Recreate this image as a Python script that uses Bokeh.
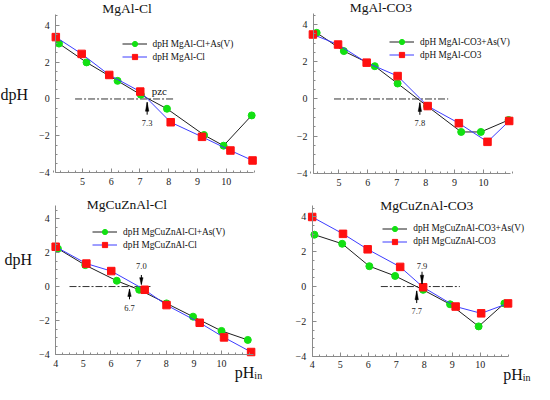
import numpy as np
from bokeh.plotting import figure
from bokeh.models import Range1d, FixedTicker, Label, Legend, LegendItem, LinearAxis
from bokeh.layouts import row, column
from bokeh.embed import file_html
from bokeh.resources import INLINE

FONT = "Liberation Serif"
GREEN = "#12e012"
RED = "#ff1010"
BLUE = "#3c3cff"
BLACK = "#1e1e1e"
AXIS = "#8a8a8a"

# ---------------- data ----------------
titles = ["MgAl-Cl", "MgAl-CO3", "MgCuZnAl-Cl", "MgCuZnAl-CO3"]

ph_mgal_cl_as = [4.18, 5.14, 6.22, 7.03, 7.94, 9.23, 9.91, 10.89]
dph_mgal_cl_as = [3.00, 1.98, 0.98, 0.23, -0.53, -1.95, -2.53, -0.89]
ph_mgal_cl = [4.07, 4.97, 5.93, 7.01, 8.07, 9.16, 10.15, 10.92]
dph_mgal_cl = [3.35, 2.44, 1.30, 0.40, -1.26, -2.05, -2.79, -3.33]

ph_mgal_co3_as = [4.23, 5.17, 6.24, 7.03, 8.05, 9.23, 9.91, 10.87]
dph_mgal_co3_as = [3.55, 2.57, 1.76, 0.83, -0.38, -1.77, -1.77, -1.13]
ph_mgal_co3 = [4.10, 4.97, 5.96, 7.03, 8.07, 9.15, 10.14, 10.89]
dph_mgal_co3 = [3.46, 2.92, 1.95, 1.23, -0.38, -1.30, -2.30, -1.18]

ph_mgcuznal_cl_as = [4.08, 5.07, 6.21, 7.02, 8.01, 8.97, 10.00, 10.95]
dph_mgcuznal_cl_as = [2.23, 1.26, 0.34, -0.19, -0.99, -1.77, -2.61, -3.14]
ph_mgcuznal_cl = [4.00, 5.11, 6.01, 7.22, 8.01, 9.21, 10.09, 11.07]
dph_mgcuznal_cl = [2.34, 1.35, 0.91, -0.19, -1.09, -2.13, -2.99, -3.85]

ph_mgcuznal_co3_as = [4.08, 5.07, 6.04, 6.96, 7.96, 8.92, 9.94, 10.86]
dph_mgcuznal_co3_as = [2.98, 2.46, 1.17, 0.61, -0.19, -1.02, -2.29, -0.97]
ph_mgcuznal_co3 = [4.00, 5.10, 5.98, 7.14, 7.96, 9.12, 10.03, 10.99]
dph_mgcuznal_co3 = [4.00, 3.03, 2.14, 1.13, -0.04, -1.15, -1.54, -0.97]

legend_as = ["dpH MgAl-Cl+As(V)", "dpH MgAl-CO3+As(V)",
             "dpH MgCuZnAl-Cl+As(V)", "dpH MgCuZnAl-CO3+As(V)"]
legend_plain = ["dpH MgAl-Cl", "dpH MgAl-CO3",
                "dpH MgCuZnAl-Cl", "dpH MgCuZnAl-CO3"]

# zero (pzc) dash-dot line extents
zero_start = [4.74, 4.83, 4.50, 6.45]
zero_end = [8.19, 8.78, 7.43, 9.27]

# pzc arrows: x, tip, tail, label text, label y
arrow_x = [[7.25], [7.80], [6.67, 7.10], [7.92, 7.73]]
arrow_tip = [[-0.18], [-0.20], [-0.15, 0.12], [0.15, -0.25]]
arrow_tail = [[-0.85], [-0.85], [-0.75, 0.68], [0.85, -0.95]]
arrow_text = [["7.3"], ["7.8"], ["6.7", "7.0"], ["7.9", "7.7"]]
arrow_text_y = [[-1.30], [-1.30], [-1.25, 1.20], [1.20, -1.38]]

x_major_top = [5, 6, 7, 8, 9, 10]
x_major_bottom = [4, 5, 6, 7, 8, 9, 10]
y_major = [-4, -2, 0, 2, 4]

# axis extents
x_bounds = [(4.065, 10.97), (4.12, 10.93), (4.0, 11.15), (4.0, 11.02)]
y_top = [4.6, 4.6, 4.76, 4.65]

series = [
    (ph_mgal_cl_as, dph_mgal_cl_as, ph_mgal_cl, dph_mgal_cl),
    (ph_mgal_co3_as, dph_mgal_co3_as, ph_mgal_co3, dph_mgal_co3),
    (ph_mgcuznal_cl_as, dph_mgcuznal_cl_as, ph_mgcuznal_cl, dph_mgcuznal_cl),
    (ph_mgcuznal_co3_as, dph_mgcuznal_co3_as, ph_mgcuznal_co3, dph_mgcuznal_co3),
]

# ---------------- layout (reference pixel geometry) ----------------
SX, SY = 0.98, 0.972
fig_ref = [(3.0, 275.4, 4.0, 197.4), (275.4, 547.9, 4.0, 197.4),
           (3.0, 275.4, 197.4, 399.1), (275.4, 547.9, 197.4, 399.1)]
fig_px = [(267, 188), (267, 188), (267, 196), (267, 196)]
cal = [dict(xpx=59.3, xval=4.065, xppu=29.3, y0=105.3, yppu=19.0),
       dict(xpx=348.3, xval=5.0, xppu=29.5, y0=105.3, yppu=19.17),
       dict(xpx=59.3, xval=4.0, xppu=28.2, y0=298.3, yppu=17.5),
       dict(xpx=321.0, xval=4.0, xppu=28.6, y0=298.3, yppu=17.9)]
title_ref = [(132, 12), (391, 11), (132, 214), (438, 215)]
legend_ref = [(127, 42.5), (400, 40.5), (97, 235.5), (393, 232)]
dph_ref = [(3, 101), None, (7, 270), None]
phin_ref = [None, None, (242, 387), (516, 389)]
pzc_ref = (165, 96.7)

x_minor = list(np.arange(4.0, 11.01, 0.25))
y_minor = list(np.arange(-4.0, 4.51, 0.5))


def style_axis(ax, ticks, minor, standoff):
    ax.ticker = FixedTicker(ticks=ticks, minor_ticks=minor)
    ax.axis_line_color = AXIS
    ax.major_tick_line_color = AXIS
    ax.minor_tick_line_color = AXIS
    ax.major_tick_in = 4
    ax.major_tick_out = 0
    ax.minor_tick_in = 2
    ax.minor_tick_out = 0
    ax.major_label_text_font = FONT
    ax.major_label_text_font_size = "10px"
    ax.major_label_text_color = "#222222"
    ax.major_label_standoff = standoff


def txt(p, x, y, s, size, align="center", baseline="middle", color="#111111"):
    p.add_layout(Label(x=x, y=y, text=s, text_font=FONT, text_font_size=size,
                       text_color=color, text_align=align, text_baseline=baseline))


figs = []
for i in range(4):
    c = cal[i]
    dx = lambda rx, c=c: c["xval"] + (rx - c["xpx"]) / c["xppu"]
    dy = lambda ry, c=c: (c["y0"] - ry) / c["yppu"]
    l, r, t, b = fig_ref[i]
    W, H = fig_px[i]
    p = figure(width=W, height=H,
               x_range=Range1d(dx(l), dx(r)), y_range=Range1d(dy(b), dy(t)),
               output_backend="svg", toolbar_location=None,
               x_axis_location=None, y_axis_location=None,
               min_border=0, min_border_left=0, min_border_right=0,
               min_border_top=0, min_border_bottom=0)
    p.grid.visible = False
    p.outline_line_color = None
    p.background_fill_color = "white"
    p.border_fill_color = "white"

    xb = x_bounds[i]
    yax = LinearAxis(fixed_location=xb[0], bounds=(-4, y_top[i]))
    style_axis(yax, y_major, y_minor, 6)
    p.add_layout(yax, "left")
    xax = LinearAxis(fixed_location=-4, bounds=xb)
    style_axis(xax, x_major_top if i < 2 else x_major_bottom, x_minor, 5)
    p.add_layout(xax, "below")

    xa, ya, xb2, yb2 = series[i]

    p.segment(x0=[zero_start[i]], y0=[0], x1=[zero_end[i]], y1=[0],
              line_color="#333333", line_width=1, line_dash="7 2 2 2")

    r1 = p.line(xa, ya, line_color=BLACK, line_width=1)
    r2 = p.scatter(xa, ya, marker="circle", size=7, fill_color=GREEN, line_color=GREEN)
    r3 = p.line(xb2, yb2, line_color=BLUE, line_width=1)
    r4 = p.scatter(xb2, yb2, marker="square", size=7.5, fill_color=RED, line_color=RED)

    hw = 1.7 / (c["xppu"] * SX)
    hx, hy = [], []
    for x, tp, tl in zip(arrow_x[i], arrow_tip[i], arrow_tail[i]):
        hb = tp + 0.72 * (tl - tp)
        hx.append([x - hw, x, x + hw])
        hy.append([hb, tp, hb])
    p.patches(hx, hy, fill_color="black", line_color="black", line_width=0.5)
    p.segment(x0=arrow_x[i], y0=arrow_tip[i], x1=arrow_x[i], y1=arrow_tail[i],
              line_color="black", line_width=1)
    for x, s, ty in zip(arrow_x[i], arrow_text[i], arrow_text_y[i]):
        txt(p, x, ty, s, "8.5px", color="#222222")

    if i == 0:
        txt(p, dx(pzc_ref[0]), dy(pzc_ref[1]), "pzc", "11px")

    gl, gt = legend_ref[i]
    lx = (gl - l) * SX
    ly = H - (gt - t) * SY - 26
    legend = Legend(items=[LegendItem(label=legend_as[i], renderers=[r1, r2]),
                           LegendItem(label=legend_plain[i], renderers=[r3, r4])],
                    location=(lx, ly))
    legend.border_line_color = None
    legend.background_fill_alpha = 0
    legend.padding = 0
    legend.margin = 0
    legend.spacing = 0
    legend.glyph_width = 25
    legend.glyph_height = 13
    legend.label_height = 13
    legend.label_standoff = 6
    legend.label_text_font = FONT
    legend.label_text_font_size = "9.3px"
    legend.label_text_color = "#111111"
    p.add_layout(legend)

    tx, ty = title_ref[i]
    txt(p, dx(tx), dy(ty), titles[i], "13.5px")

    if dph_ref[i] is not None:
        txt(p, dx(dph_ref[i][0]), dy(dph_ref[i][1]), "dpH", "16px", align="left")
    if phin_ref[i] is not None:
        px, py = phin_ref[i]
        txt(p, dx(px), dy(py), "pH", "16px", align="left", baseline="alphabetic")
        txt(p, dx(px + 20), dy(py + 3), "in", "10px", align="left", baseline="alphabetic")
    figs.append(p)

layout = column(row(figs[0], figs[1]), row(figs[2], figs[3]))
open("out.html", "w").write(file_html(layout, INLINE))
